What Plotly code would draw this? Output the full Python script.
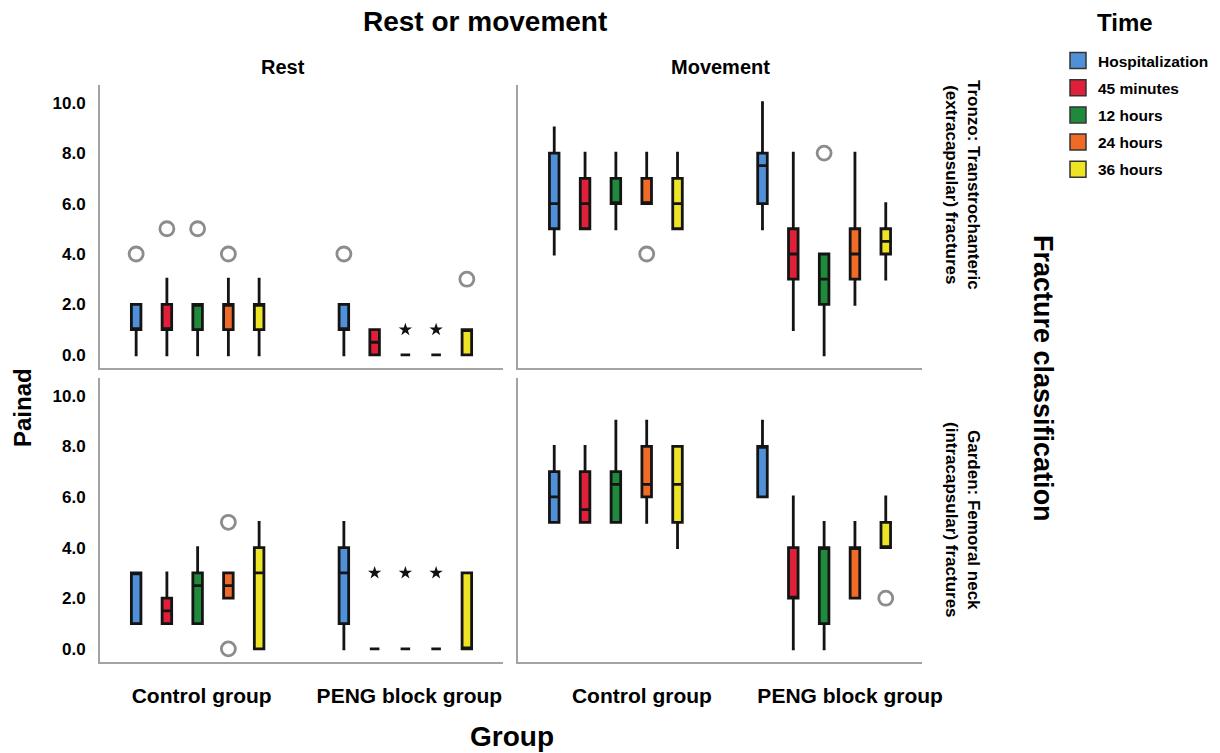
import plotly.graph_objects as go

TIMES = ["Hospitalization", "45 minutes", "12 hours", "24 hours", "36 hours"]
COLORS = ["#5090d8", "#e01f38", "#1f8a3b", "#f06b28", "#ece425"]
GROUPS = ["Control group", "PENG block group"]
Y_TICKS = [0, 2, 4, 6, 8, 10]

# Each row is a time point, each pair is (Control group, PENG block group)
# Rest - Tronzo
RT_Q1 = [[1, 1], [1, 0], [1, 0], [1, 0], [1, 0]]
RT_MED = [[1, 1], [1, 0.5], [2, 0], [2, 0], [2, 1]]
RT_Q3 = [[2, 2], [2, 1], [2, 0], [2, 0], [2, 1]]
RT_LO = [[0, 0], [0, 0], [0, 0], [0, 0], [0, 0]]
RT_HI = [[2, 2], [3, 1], [2, 0], [3, 0], [3, 1]]
RT_CIRCLES = [(0, 0, 4), (0, 1, 5), (0, 2, 5), (0, 3, 4), (1, 0, 4), (1, 4, 3)]  # (group, time, value)
RT_STARS = [(1, 2, 1), (1, 3, 1)]

# Movement - Tronzo
MT_Q1 = [[5, 6], [5, 3], [6, 2], [6, 3], [5, 4]]
MT_MED = [[6, 7.5], [6, 4], [6, 3], [6, 4], [6, 4.5]]
MT_Q3 = [[8, 8], [7, 5], [7, 4], [7, 5], [7, 5]]
MT_LO = [[4, 5], [5, 1], [5, 0], [6, 2], [5, 3]]
MT_HI = [[9, 10], [8, 8], [8, 4], [8, 8], [8, 6]]
MT_CIRCLES = [(1, 2, 8), (0, 3, 4)]
MT_STARS = []

# Rest - Garden
RG_Q1 = [[1, 1], [1, 0], [1, 0], [2, 0], [0, 0]]
RG_MED = [[3, 3], [1.5, 0], [2.5, 0], [2.5, 0], [3, 0]]
RG_Q3 = [[3, 4], [2, 0], [3, 0], [3, 0], [4, 3]]
RG_LO = [[1, 0], [1, 0], [1, 0], [2, 0], [0, 0]]
RG_HI = [[3, 5], [3, 0], [4, 0], [3, 0], [5, 3]]
RG_CIRCLES = [(0, 3, 5), (0, 3, 0)]
RG_STARS = [(1, 1, 3), (1, 2, 3), (1, 3, 3)]

# Movement - Garden
MG_Q1 = [[5, 6], [5, 2], [5, 1], [6, 2], [5, 4]]
MG_MED = [[6, 8], [5.5, 2], [6.5, 4], [6.5, 4], [6.5, 4]]
MG_Q3 = [[7, 8], [7, 4], [7, 4], [8, 4], [8, 5]]
MG_LO = [[5, 6], [5, 0], [5, 0], [5, 2], [4, 4]]
MG_HI = [[8, 9], [8, 6], [9, 5], [9, 5], [8, 6]]
MG_CIRCLES = [(1, 4, 2)]
MG_STARS = []

FONT = "Liberation Sans, Arial, sans-serif"
BOX_STEP = 0.148
BOX_W = 0.046

panels = [
    ("", (RT_Q1, RT_MED, RT_Q3, RT_LO, RT_HI), RT_CIRCLES, RT_STARS),
    ("2", (MT_Q1, MT_MED, MT_Q3, MT_LO, MT_HI), MT_CIRCLES, MT_STARS),
    ("3", (RG_Q1, RG_MED, RG_Q3, RG_LO, RG_HI), RG_CIRCLES, RG_STARS),
    ("4", (MG_Q1, MG_MED, MG_Q3, MG_LO, MG_HI), MG_CIRCLES, MG_STARS),
]

def xpos(g, t):
    return g + (t - 2) * BOX_STEP

fig = go.Figure()
for suf, (q1, med, q3, lo, hi), circles, stars in panels:
    for t, name in enumerate(TIMES):
        fig.add_trace(go.Box(
            x=[xpos(g, t) for g in range(len(GROUPS))],
            q1=q1[t], median=med[t], q3=q3[t], lowerfence=lo[t], upperfence=hi[t],
            width=BOX_W, whiskerwidth=0.3, boxpoints=False,
            fillcolor=COLORS[t], line=dict(color="#141414", width=2.8),
            name=name, showlegend=False, hoverinfo="skip",
            xaxis="x" + suf, yaxis="y" + suf,
        ))
    if circles:
        fig.add_trace(go.Scatter(
            x=[xpos(g, t) for g, t, v in circles], y=[v for g, t, v in circles],
            mode="markers", showlegend=False, hoverinfo="skip",
            marker=dict(symbol="circle-open", size=14, color="#8c8c8c", line=dict(width=2.8)),
            xaxis="x" + suf, yaxis="y" + suf,
        ))
    if stars:
        fig.add_trace(go.Scatter(
            x=[xpos(g, t) for g, t, v in stars], y=[v for g, t, v in stars],
            mode="markers", showlegend=False, hoverinfo="skip",
            marker=dict(symbol="star", size=10, color="#111111"),
            xaxis="x" + suf, yaxis="y" + suf,
        ))

# legend swatches
for t, name in enumerate(TIMES):
    fig.add_trace(go.Scatter(
        x=[None], y=[None], mode="markers", name=name, legendgroup=name,
        marker=dict(symbol="square", size=20, color=COLORS[t], line=dict(color="#333333", width=1.5)),
        xaxis="x", yaxis="y",
    ))

W, H = 1220, 753
xL = [100 / W, 503 / W]
xR = [518 / W, 922 / W]
yT = [1 - 368 / H, 1 - 85 / H]
yB = [1 - 662 / H, 1 - 378 / H]

YR = [-0.52, 10.7]
XR = [-0.47, 1.47]
axis_line = dict(showline=True, linecolor="#a3a3a3", linewidth=2, showgrid=False, zeroline=False)

def xax(domain, anchor, labels, shift):
    return dict(domain=domain, anchor=anchor, range=XR, tickvals=list(range(len(GROUPS))),
                ticktext=GROUPS, showticklabels=labels, ticks="", ticklabelstandoff=14,
                ticklabelshift=shift,
                tickfont=dict(family=FONT, size=21, color="black", weight="bold"), **axis_line)

def yax(domain, anchor, labels):
    return dict(domain=domain, anchor=anchor, range=YR, tickvals=Y_TICKS, tickformat=".1f",
                showticklabels=labels, ticks="", ticklabelstandoff=9,
                tickfont=dict(family=FONT, size=17, color="black", weight="bold"), **axis_line)

ann = []
def A(text, x, y, size, angle=0):
    ann.append(dict(text=text, x=x / W, y=1 - y / H, xref="paper", yref="paper",
                    showarrow=False, textangle=angle, xanchor="center", yanchor="middle",
                    font=dict(family=FONT, size=size, color="black", weight="bold")))

A("Rest or movement", 485, 22, 28)
A("Rest", 283, 67, 20)
A("Movement", 720, 67, 20)
A("Group", 512, 736, 28)
A("Painad", 22, 408, 24, -90)
A("Fracture classification", 1043, 378, 27, 90)
A("Tronzo: Transtrochanteric<br>(extracapsular) fractures", 963, 185, 17, 90)
A("Garden: Femoral neck<br>(intracapsular) fractures", 963, 520, 17, 90)
A("Time", 1125, 23, 24)

fig.update_layout(
    width=W, height=H, margin=dict(l=0, r=0, t=0, b=0, autoexpand=False),
    paper_bgcolor="white", plot_bgcolor="white",
    boxmode="overlay",
    xaxis=xax(xL, "y", False, 4), yaxis=yax(yT, "x", True),
    xaxis2=xax(xR, "y2", False, 26), yaxis2=yax(yT, "x2", False),
    xaxis3=xax(xL, "y3", True, 4), yaxis3=yax(yB, "x3", True),
    xaxis4=xax(xR, "y4", True, 26), yaxis4=yax(yB, "x4", False),
    annotations=ann,
    legend=dict(x=1058 / W, y=1 - 44 / H, xanchor="left", yanchor="top",
                font=dict(family=FONT, size=15.5, color="black", weight="bold"),
                tracegroupgap=4, bgcolor="rgba(0,0,0,0)", itemclick=False),
    showlegend=True,
)

fig.write_html("out.html")
